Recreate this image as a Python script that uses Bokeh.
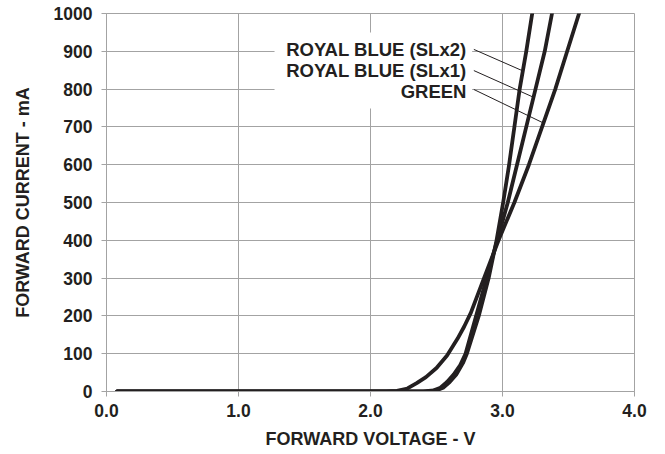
from bokeh.plotting import figure
from bokeh.models import Range1d, FixedTicker, Label, BoxAnnotation
from bokeh.embed import file_html
from bokeh.resources import INLINE

# ---- data ----
green_v = [0.08, 1.0, 2.0, 2.12, 2.20, 2.28, 2.35, 2.42, 2.50, 2.58, 2.66, 2.71, 2.76, 2.86, 2.97, 3.09, 3.20, 3.30, 3.40, 3.49, 3.58]
green_i = [0, 0, 0, 0.3, 1.5, 8, 22, 38, 62, 95, 140, 172, 208, 300, 400, 500, 600, 700, 800, 900, 1000]

slx1_v = [0.08, 1.0, 2.0, 2.40, 2.48, 2.53, 2.58, 2.63, 2.68, 2.72, 2.80, 2.88, 2.96, 3.04, 3.11, 3.18, 3.25, 3.32, 3.375]
slx1_i = [0, 0, 0, 0.5, 3, 10, 25, 45, 70, 100, 200, 300, 400, 500, 600, 700, 800, 900, 1000]

slx2_v = [0.08, 1.0, 2.0, 2.42, 2.50, 2.55, 2.60, 2.65, 2.70, 2.73, 2.82, 2.895, 2.955, 3.005, 3.05, 3.09, 3.13, 3.18, 3.225]
slx2_i = [0, 0, 0, 0.5, 3, 10, 25, 45, 75, 100, 200, 300, 400, 500, 600, 700, 800, 900, 1000]

series_labels = ["ROYAL BLUE (SLx2)", "ROYAL BLUE (SLx1)", "GREEN"]
x_ticks = [0, 1, 2, 3, 4]
y_ticks = [0, 100, 200, 300, 400, 500, 600, 700, 800, 900, 1000]

FONT = "Liberation Sans"
INK = "#231f20"
GRAY = "#a3a3a3"

p = figure(width=665, height=454, output_backend="svg", toolbar_location=None,
           x_range=Range1d(0, 4), y_range=Range1d(0, 1000))
p.min_border_left = 106
p.min_border_right = 31
p.min_border_top = 13
p.min_border_bottom = 63
p.background_fill_color = "white"
p.border_fill_color = "white"
p.outline_line_color = GRAY
p.outline_line_width = 1

for ax in (p.xaxis[0], p.yaxis[0]):
    ax.axis_line_color = GRAY
    ax.major_tick_line_color = GRAY
    ax.major_tick_out = 5
    ax.major_tick_in = 0
    ax.minor_tick_line_color = None
    ax.major_label_text_font = FONT
    ax.major_label_text_font_style = "bold"
    ax.major_label_text_font_size = "17.5px"
    ax.major_label_text_color = INK
    ax.axis_label_text_font = FONT
    ax.axis_label_text_font_style = "bold"
    ax.axis_label_text_font_size = "18px"
    ax.axis_label_text_color = INK

p.xaxis[0].ticker = FixedTicker(ticks=x_ticks)
p.xaxis[0].major_label_overrides = {t: f"{t:.1f}" for t in x_ticks}
p.yaxis[0].ticker = FixedTicker(ticks=y_ticks)
p.xaxis[0].axis_label = "FORWARD VOLTAGE - V"
p.yaxis[0].axis_label = "FORWARD CURRENT - mA"
p.xaxis[0].major_label_standoff = 7
p.yaxis[0].major_label_standoff = 9
p.xaxis[0].axis_label_standoff = 9
p.yaxis[0].axis_label_standoff = 18

p.xgrid.ticker = FixedTicker(ticks=x_ticks)
p.ygrid.ticker = FixedTicker(ticks=y_ticks)
p.xgrid.grid_line_color = GRAY
p.ygrid.grid_line_color = GRAY

# white area behind the labels (hides grid lines)
p.add_layout(BoxAnnotation(left=1.273, right=2.77, bottom=749, top=950,
                           fill_color="white", fill_alpha=1, line_color=None, level="underlay"))

for v, i in ((green_v, green_i), (slx1_v, slx1_i), (slx2_v, slx2_i)):
    p.line(v, i, line_color=INK, line_width=3.8, line_join="round", line_cap="round")

# labels with leader lines
label_x = 2.727
label_y = [904, 849, 794]
lead_x0 = [2.783, 2.783, 2.783]
lead_y0 = [905, 849, 799]
lead_x1 = [3.155, 3.225, 3.30]
lead_y1 = [848, 780, 712]
for t, y in zip(series_labels, label_y):
    p.add_layout(Label(x=label_x, y=y, text=t, text_align="right", text_baseline="middle",
                       text_font=FONT, text_font_style="bold", text_font_size="18.5px",
                       text_color=INK))
p.segment(x0=lead_x0, y0=lead_y0, x1=lead_x1, y1=lead_y1, line_color=INK, line_width=1)

open("out.html", "w").write(file_html(p, INLINE))
